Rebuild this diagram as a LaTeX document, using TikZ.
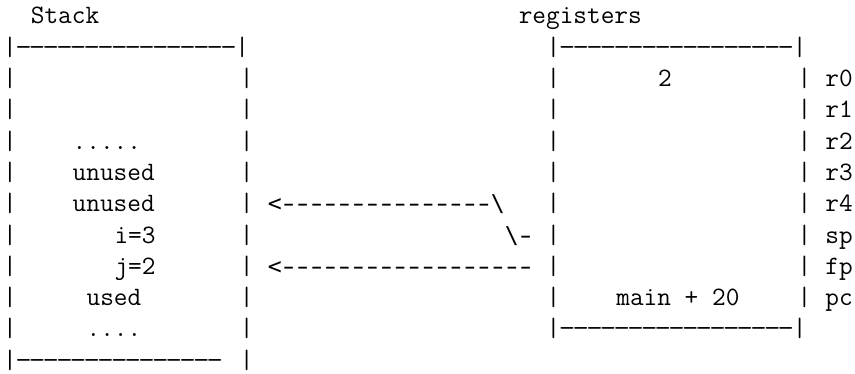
\documentclass[tikz,border=0pt]{standalone}
\usepackage{fontspec}
\usepackage{graphicx}
\newfontfamily\arrowfont{DejaVu Sans Mono}
% typewriter text; one character cell is 13.94pt
\newcommand\mono[1]{{\fontsize{26.55pt}{26.55pt}\selectfont\ttfamily #1}}
% pointer strokes in a sans mono face
\newcommand\arw[1]{{\fontsize{23.16pt}{23.16pt}\selectfont\arrowfont #1}}
% one hyphen, stretched a little but kept in its own cell
\newcommand\longdash[1][1.2]{\setbox0\hbox{-}\hbox to \wd0{\hss\scalebox{#1}[1]{-}\hss}}
% runs of such hyphens, for box edges and for pointer shafts
\newcommand\hy[1]{\foreach \k in {1,...,#1}{\longdash}}
\newcommand\shaft[1]{\foreach \k in {1,...,#1}{\longdash[1.45]}}
% place text at (row, column) of the character grid
\newcommand\gridtext[4]{\node[txt] (#1) at ({3+13.94*(#3)},{24+31.3*(#2)}) {#4};}
\begin{document}
\begin{tikzpicture}[x=1pt,y=-1pt,
  txt/.style={anchor=base west,inner sep=0pt,outer sep=0pt}]
\path[use as bounding box] (0,0) rectangle (855,374);

% titles
\gridtext{stackT}{0}{2}{\mono{Stack}}
\gridtext{regT}{0}{37}{\mono{registers}}

% stack frame
\gridtext{stkTop}{1}{0}{\mono{|\hy{16}|}}
\foreach \r in {2,...,10}{
  \gridtext{sl\r}{\r}{0}{\mono{|}}
  \gridtext{sr\r}{\r}{17}{\mono{|}}
}
\gridtext{stkBot}{11}{0}{\mono{|\hy{15}}}
\gridtext{stkBotR}{11}{17}{\mono{|}}

% stack contents
\gridtext{dots1}{4}{5}{\mono{.....}}
\gridtext{un1}{5}{5}{\mono{unused}}
\gridtext{un2}{6}{5}{\mono{unused}}
\gridtext{vi}{7}{8}{\mono{i=3}}
\gridtext{vj}{8}{8}{\mono{j=2}}
\gridtext{used}{9}{6}{\mono{used}}
\gridtext{dots2}{10}{6}{\mono{....}}

% register file
\gridtext{regTop}{1}{39}{\mono{|\hy{17}|}}
\foreach \r in {2,...,9}{
  \gridtext{rl\r}{\r}{39}{\mono{|}}
  \gridtext{rr\r}{\r}{57}{\mono{|}}
}
\gridtext{regBot}{10}{39}{\mono{|\hy{17}|}}
\gridtext{rzero}{2}{47}{\mono{2}}
\gridtext{pcval}{9}{44}{\mono{main + 20}}

% register names
\foreach \r/\n in {2/r0,3/r1,4/r2,5/r3,6/r4,7/sp,8/fp,9/pc}{
  \gridtext{name\n}{\r}{59}{\mono{\n}}
}

% pointers from sp and fp into the stack
\gridtext{spArrow}{6}{19}{\arw{<\shaft{15}\textbackslash}}
\gridtext{spBend}{7}{36}{\arw{\textbackslash\longdash[1.45]}}
\gridtext{fpArrow}{8}{19}{\arw{<\shaft{18}}}
\end{tikzpicture}
\end{document}
